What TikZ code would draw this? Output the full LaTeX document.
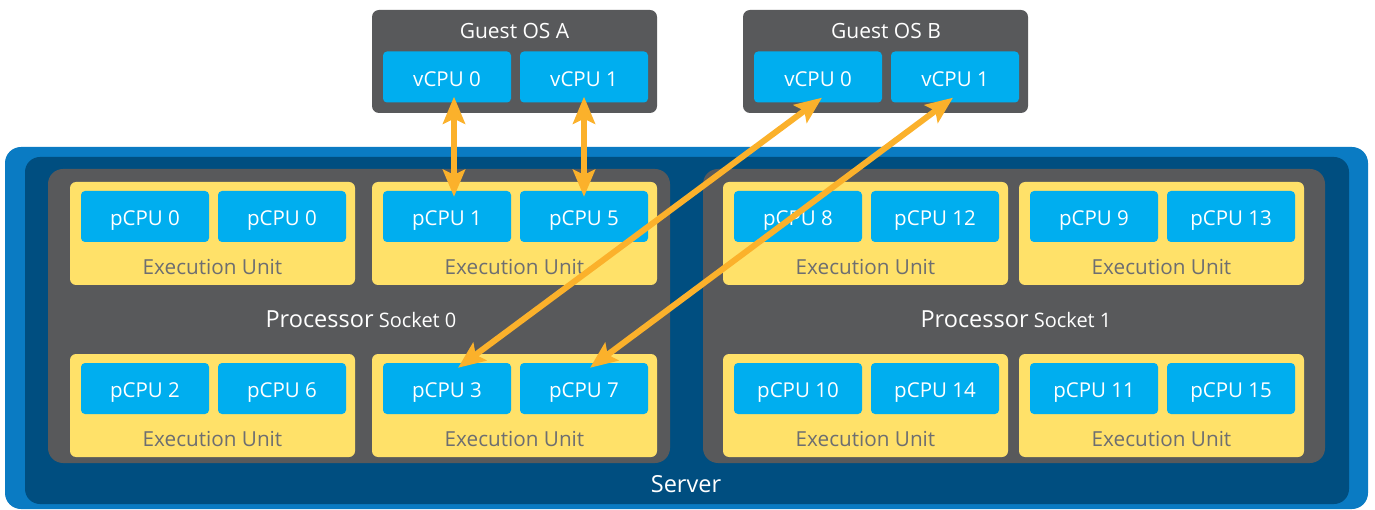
\documentclass[tikz,border=0pt]{standalone}
\usepackage{fontspec}
\setmainfont{Open Sans}
\usetikzlibrary{arrows.meta}

\definecolor{srvblue}{HTML}{0A7BC3}
\definecolor{srvdark}{HTML}{004E80}
\definecolor{sockgray}{HTML}{58595B}
\definecolor{euyellow}{HTML}{FFE169}
\definecolor{cpucyan}{HTML}{00AEEF}
\definecolor{eutext}{HTML}{6D6E71}
\definecolor{maporange}{HTML}{FBB12B}

\tikzset{
  plate/.style={rectangle, inner sep=0pt, draw=none},
  server/.style={plate, fill=srvblue, rounded corners=16pt, minimum width=1363pt, minimum height=362pt},
  serverin/.style={plate, fill=srvdark, rounded corners=15pt, minimum width=1324pt, minimum height=347pt},
  socket/.style={plate, fill=sockgray, rounded corners=15pt, minimum width=622pt, minimum height=294pt},
  guest/.style={plate, fill=sockgray, rounded corners=7pt, minimum width=285pt, minimum height=103pt},
  eu/.style={plate, fill=euyellow, rounded corners=6pt, minimum width=285pt, minimum height=103pt},
  cpu/.style={plate, fill=cpucyan, rounded corners=4pt, minimum width=128pt, minimum height=51pt,
              text=white, font=\fontsize{20.5}{24}\selectfont, text height=18.6pt, text depth=0pt},
  eulabel/.style={inner sep=0pt, text=eutext, font=\fontsize{20.7}{24}\selectfont},
  whitelabel/.style={inner sep=0pt, text=white, font=\fontsize{21}{25}\selectfont},
  socklabel/.style={inner sep=0pt, text=white, font=\fontsize{20}{25}\selectfont},
  maparrow/.style={draw=maporange, line width=6pt,
                   {Stealth[length=27pt,width=22pt,inset=5pt]}-{Stealth[length=27pt,width=22pt,inset=5pt]}},
}

% execution unit: name, left x, top y, first pCPU label, second pCPU label
\newcommand\execunit[5]{%
  \node[eu] (#1) at ({#2+142.5},{#3+51.5}) {};
  \node[cpu] (#1a) at ({#2+75},{#3+34.5}) {#4};
  \node[cpu] (#1b) at ({#2+212},{#3+34.5}) {#5};
  \node[eulabel] (#1l) at ({#2+142.5},{#3+85}) {Execution Unit};
}

\begin{document}
\begin{tikzpicture}[x=1pt,y=-1pt]
\useasboundingbox (0,0) rectangle (1375,510);

% server enclosure
\node[server] (srv) at (686.5,328) {};
\node[serverin] (srvin) at (687,330.5) {};
\node[whitelabel, font=\fontsize{23.5}{27}\selectfont] (srvl) at (686,484) {Server};

% processor sockets
\node[socket] (s0) at (359,316) {};
\node[socket] (s1) at (1014,316) {};
\node[socklabel] (s0l) at (361,319) {{\fontsize{23.5}{27}\selectfont Processor} Socket 0};
\node[socklabel] (s1l) at (1016,319) {{\fontsize{23.5}{27}\selectfont Processor} Socket 1};

% execution units of socket 0
\execunit{e1}{70}{182}{pCPU 0}{pCPU 0}
\execunit{e2}{372}{182}{pCPU 1}{pCPU 5}
\execunit{e3}{70}{354}{pCPU 2}{pCPU 6}
\execunit{e4}{372}{354}{pCPU 3}{pCPU 7}

% execution units of socket 1
\execunit{e5}{723}{182}{pCPU 8}{pCPU 12}
\execunit{e6}{1019}{182}{pCPU 9}{pCPU 13}
\execunit{e7}{723}{354}{pCPU 10}{pCPU 14}
\execunit{e8}{1019}{354}{pCPU 11}{pCPU 15}

% guest operating systems
\node[guest] (ga) at (514.5,61.5) {};
\node[whitelabel] (gal) at (514.5,31) {Guest OS A};
\node[cpu] (ga0) at (447,77) {vCPU 0};
\node[cpu] (ga1) at (584,77) {vCPU 1};

\node[guest] (gb) at (885.5,61.5) {};
\node[whitelabel] (gbl) at (886,31) {Guest OS B};
\node[cpu] (gb0) at (818,77) {vCPU 0};
\node[cpu] (gb1) at (955,77) {vCPU 1};

% vCPU to pCPU mappings
\draw[maparrow] ([xshift=7pt,yshift=6pt]ga0.south) -- ([xshift=7pt,yshift=-6pt]e2a.north);
\draw[maparrow] ([yshift=6pt]ga1.south) -- ([yshift=-6pt]e2b.north);
\draw[maparrow] ([xshift=4pt,yshift=5pt]gb0.south) -- ([xshift=11pt,yshift=-5pt]e4a.north);
\draw[maparrow] ([xshift=-2pt,yshift=5pt]gb1.south) -- ([xshift=6pt,yshift=-5pt]e4b.north);
\end{tikzpicture}
\end{document}
